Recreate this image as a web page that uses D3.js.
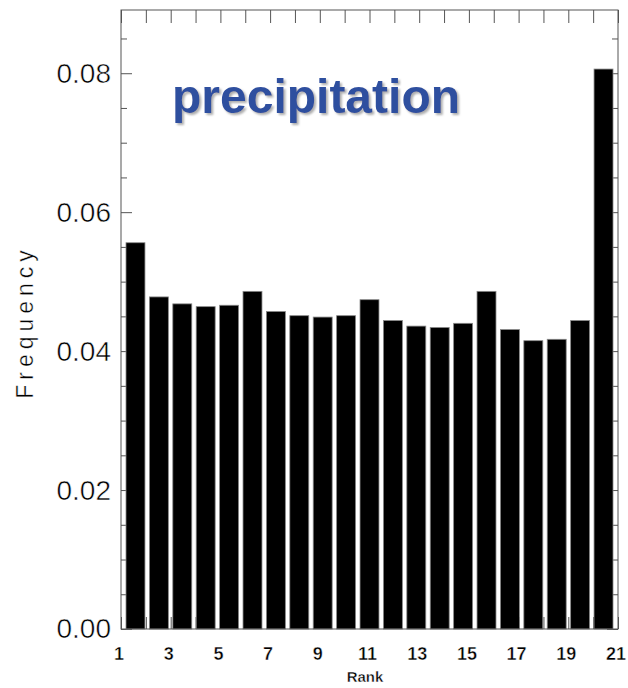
<!DOCTYPE html>
<html>
<head>
<meta charset="utf-8">
<script src="https://cdn.jsdelivr.net/npm/d3@7"></script>
<style>
  body { margin: 0; background: #fff; }
  svg { display: block; }
</style>
</head>
<body>
<div id="chart"></div>
<script>
// rank histogram values
const ranks = [1, 2, 3, 4, 5, 6, 7, 8, 9, 10, 11, 12, 13, 14, 15, 16, 17, 18, 19, 20, 21];
const frequency = [0.0556, 0.0478, 0.0468, 0.0464, 0.0466, 0.0486, 0.0457, 0.0451, 0.0449, 0.0451,
                   0.0474, 0.0444, 0.0436, 0.0434, 0.0440, 0.0486, 0.0431, 0.0415, 0.0417, 0.0444, 0.0806];
const yMajorTicks = [0, 0.02, 0.04, 0.06, 0.08];
const yMinorTicks = [0.005, 0.01, 0.015, 0.025, 0.03, 0.035, 0.045, 0.05, 0.055, 0.065, 0.07, 0.075, 0.085];
const xTickLabels = [1, 3, 5, 7, 9, 11, 13, 15, 17, 19, 21];
const xTicks = ranks;
const title = "precipitation";

const width = 628, height = 688;
const margin = { top: 10, right: 10, bottom: 59, left: 121 };
const axisColor = "#555";

const svg = d3.select("#chart").append("svg")
  .attr("width", width)
  .attr("height", height);

const defs = svg.append("defs");
defs.append("filter").attr("id", "shadow")
  .attr("x", "-5%").attr("y", "-20%").attr("width", "115%").attr("height", "150%")
  .append("feDropShadow")
  .attr("dx", 2).attr("dy", 2).attr("stdDeviation", 0.8)
  .attr("flood-color", "#999").attr("flood-opacity", 0.8);

const x = d3.scaleLinear().domain([1, 21]).range([margin.left, width - margin.right]);
const y = d3.scaleLinear().domain([0, 0.0891]).range([height - margin.bottom, margin.top]);
// bars sit in 21 equal bins inside the frame
const xb = d3.scaleBand().domain(ranks).range([126, 613]).paddingInner(0.19).paddingOuter(0);

function ticks(g) {
  g.select(".domain").remove();
  g.selectAll("line").attr("stroke", axisColor);
}

// thin glyphs: a white stroke eats into the fill
function thin(sel, w) {
  sel.attr("stroke", "#fff").attr("stroke-width", w);
}

// ticks first, bars paint over them
svg.append("g").attr("transform", `translate(${margin.left},0)`)
  .call(d3.axisLeft(y).tickValues(yMajorTicks).tickSizeInner(-11).tickSizeOuter(0).tickPadding(10).tickFormat(d3.format(".2f")))
  .call(ticks)
  .call(g => g.selectAll("text")
    .attr("font-family", "Liberation Sans, Arial, sans-serif")
    .attr("font-size", 28)
    .attr("fill", "#000")
    .call(thin, 0.5));

svg.append("g").attr("transform", `translate(${margin.left},0)`)
  .call(d3.axisLeft(y).tickValues(yMinorTicks).tickSizeInner(-6).tickSizeOuter(0).tickFormat(""))
  .call(ticks);

svg.append("g").attr("transform", `translate(${width - margin.right},0)`)
  .call(d3.axisRight(y).tickValues(yMajorTicks).tickSizeInner(-11).tickSizeOuter(0).tickFormat(""))
  .call(ticks);

svg.append("g").attr("transform", `translate(${width - margin.right},0)`)
  .call(d3.axisRight(y).tickValues(yMinorTicks).tickSizeInner(-6).tickSizeOuter(0).tickFormat(""))
  .call(ticks);

svg.append("g").attr("transform", `translate(0,${margin.top})`)
  .call(d3.axisTop(x).tickValues(xTicks).tickSizeInner(-13).tickSizeOuter(0).tickFormat(""))
  .call(ticks);

svg.append("g").attr("transform", `translate(0,${height - margin.bottom})`)
  .call(d3.axisBottom(x).tickValues(xTicks).tickSizeInner(-12).tickSizeOuter(0).tickFormat(""))
  .call(ticks);

// bars
svg.append("g").selectAll("rect")
  .data(frequency)
  .join("rect")
  .attr("x", (d, i) => xb(ranks[i]))
  .attr("y", d => y(d))
  .attr("width", xb.bandwidth())
  .attr("height", d => y(0) - y(d))
  .attr("fill", "#000")
  .attr("stroke", "#888")
  .attr("stroke-width", 0.8);

// frame
svg.append("rect")
  .attr("x", margin.left)
  .attr("y", margin.top)
  .attr("width", width - margin.right - margin.left)
  .attr("height", height - margin.bottom - margin.top)
  .attr("fill", "none")
  .attr("stroke", axisColor)
  .attr("stroke-width", 1);

// x labels
svg.append("g").selectAll("text")
  .data(xTickLabels)
  .join("text")
  .attr("x", d => x(d) - 2)
  .attr("y", 660)
  .attr("text-anchor", "middle")
  .attr("font-family", "Liberation Sans Narrow, Liberation Sans, Arial, sans-serif")
  .attr("font-size", 18)
  .attr("font-weight", "bold")
  .call(thin, 0.4)
  .text(d => d);

svg.append("text")
  .attr("x", 365)
  .attr("y", 682)
  .attr("text-anchor", "middle")
  .attr("font-family", "Liberation Sans Narrow, Liberation Sans, Arial, sans-serif")
  .attr("font-size", 15)
  .attr("font-weight", "bold")
  .call(thin, 0.4)
  .text("Rank");

svg.append("text")
  .attr("transform", "translate(33,322) rotate(-90)")
  .attr("text-anchor", "middle")
  .attr("font-family", "Liberation Sans, Arial, sans-serif")
  .attr("font-size", 23)
  .attr("letter-spacing", 5)
  .call(thin, 0.4)
  .text("Frequency");

// title with drop shadow
svg.append("text")
  .attr("x", 172)
  .attr("y", 113)
  .attr("font-family", "Liberation Sans, Arial, sans-serif")
  .attr("font-size", 48)
  .attr("font-weight", "bold")
  .attr("fill", "#2f4f9f")
  .attr("filter", "url(#shadow)")
  .text(title);
</script>
</body>
</html>
